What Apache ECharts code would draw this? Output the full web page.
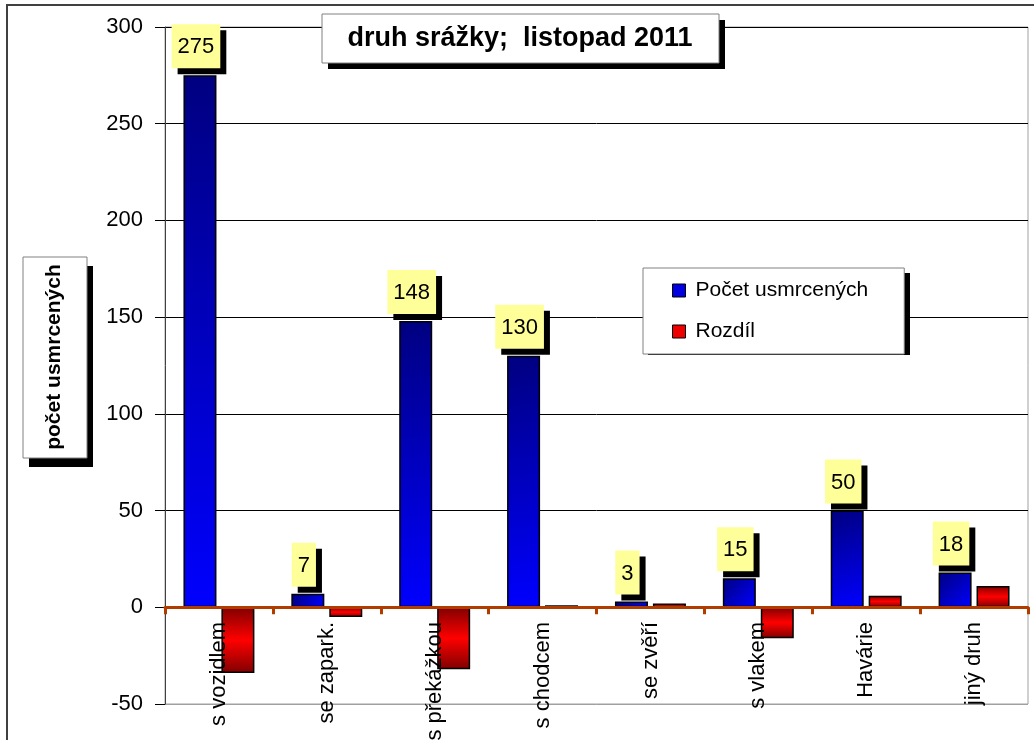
<!DOCTYPE html>
<html>
<head>
<meta charset="utf-8">
<script src="https://cdn.jsdelivr.net/npm/echarts@6/dist/echarts.min.js"></script>
<style>
  html, body { margin: 0; padding: 0; background: #fff; }
  #chart { width: 1034px; height: 740px; }
</style>
</head>
<body>
<div id="chart"></div>
<script>
// data
var categories = ['s vozidlem', 'se zapark.', 's překážkou', 's chodcem', 'se zvěří', 's vlakem', 'Havárie', 'jiný druh'];
var killed = [275, 7, 148, 130, 3, 15, 50, 18];
var diff = [-34, -5, -32, 1, 2, -16, 6, 11];
var yTicks = { min: -50, max: 300, step: 50 };

var FONT = "'Liberation Sans', Arial, sans-serif";

var chart = echarts.init(document.getElementById('chart'));

var blueFill = new echarts.graphic.LinearGradient(0, 0, 1, 1, [
  { offset: 0, color: '#000080' },
  { offset: 1, color: '#0000ff' }
]);
var redFill = new echarts.graphic.LinearGradient(0, 0, 0, 1, [
  { offset: 0, color: '#800000' },
  { offset: 0.5, color: '#ff0000' },
  { offset: 1, color: '#800000' }
]);

// box with a hard black shadow behind it
function shadowBox(x, y, w, h, dx, dy) {
  return [
    { type: 'rect', shape: { x: x + dx, y: y + dy, width: w, height: h }, style: { fill: '#000' }, silent: true, z: 3 },
    { type: 'rect', shape: { x: x, y: y, width: w, height: h }, style: { fill: '#fff', stroke: '#808080', lineWidth: 1 }, silent: true, z: 3 }
  ];
}

var graphics = [
  {
    type: 'rect',
    shape: { x: 7, y: 5, width: 1040, height: 760 },
    style: { fill: 'none', stroke: '#404040', lineWidth: 2 },
    silent: true,
    z: 10
  }
];
graphics = graphics.concat(shadowBox(322, 14, 397, 49, 6, 6));
graphics.push({
  type: 'text', x: 520, y: 39, z: 5,
  style: { text: 'druh srážky;  listopad 2011', fontSize: 27, fontWeight: 'bold', fontFamily: FONT, fill: '#000', align: 'center', verticalAlign: 'middle' }
});
graphics = graphics.concat(shadowBox(23, 257, 64, 201, 6, 9));
graphics.push({
  type: 'text', x: 54, y: 357, rotation: Math.PI / 2, z: 5,
  style: { text: 'počet usmrcených', fontSize: 21, fontWeight: 'bold', fontFamily: FONT, fill: '#000', align: 'center', verticalAlign: 'middle' }
});
// legend shadow
graphics.push({ type: 'rect', shape: { x: 648, y: 273, width: 262, height: 82 }, style: { fill: '#000' }, silent: true, z: 3 });

var option = {
  backgroundColor: '#fff',
  animation: false,
  textStyle: { fontFamily: FONT },
  grid: {
    left: 165, right: 6, top: 27, bottom: 36,
    containLabel: false, outerBoundsMode: 'none',
    show: true, borderColor: '#a0a0a0', borderWidth: 1
  },
  legend: {
    orient: 'vertical',
    left: 643,
    top: 268,
    width: 262,
    height: 82,
    padding: [12, 36, 12, 29],
    itemGap: 20,
    itemWidth: 13,
    itemHeight: 13,
    backgroundColor: '#fff',
    borderColor: '#808080',
    borderWidth: 1,
    z: 4,
    textStyle: { fontSize: 21, color: '#000', fontFamily: FONT, padding: [0, 0, 0, 5] },
    data: [
      { name: 'Počet usmrcených', icon: 'rect', itemStyle: { color: '#0000e0', borderColor: '#000', borderWidth: 1 } },
      { name: 'Rozdíl', icon: 'rect', itemStyle: { color: '#ee0000', borderColor: '#000', borderWidth: 1 } }
    ]
  },
  xAxis: {
    type: 'category',
    data: categories,
    axisLine: { onZero: true, lineStyle: { color: '#b03c00', width: 3 } },
    axisTick: { show: true, length: 7, lineStyle: { color: '#b03c00', width: 3 } },
    // labels sit right under the zero line, as in the original
    axisLabel: { rotate: 90, interval: 0, fontSize: 22, color: '#000', margin: -82, fontFamily: FONT },
    splitLine: { show: false },
    z: 5
  },
  yAxis: {
    type: 'value',
    min: yTicks.min,
    max: yTicks.max,
    interval: yTicks.step,
    axisLine: { show: true, lineStyle: { color: '#404040', width: 1 } },
    axisTick: { show: true, inside: false, length: 10, lineStyle: { color: '#000' } },
    axisLabel: { fontSize: 22, color: '#000', margin: 22, fontFamily: FONT },
    splitLine: { show: true, lineStyle: { color: ['#a0a0a0', '#000', '#000', '#000', '#000', '#000', '#000', '#000'], width: 1 } }
  },
  series: [
    {
      name: 'Počet usmrcených',
      type: 'bar',
      data: killed,
      barWidth: 33,
      barGap: '15%',
      itemStyle: { color: blueFill, borderColor: '#000', borderWidth: 1.5 },
      label: {
        show: true,
        position: 'top',
        distance: 7,
        offset: [-4, 0],
        fontSize: 22,
        color: '#000',
        fontFamily: FONT,
        backgroundColor: '#ffff99',
        borderWidth: 0,
        padding: [12, 6, 10, 6],
        shadowColor: '#000',
        shadowOffsetX: 6,
        shadowOffsetY: 6,
        shadowBlur: 0
      },
      z: 3
    },
    {
      name: 'Rozdíl',
      type: 'bar',
      data: diff,
      barWidth: 33,
      itemStyle: { color: redFill, borderColor: '#000', borderWidth: 1.5 },
      z: 2
    }
  ],
  graphic: graphics
};

chart.setOption(option);
</script>
</body>
</html>
